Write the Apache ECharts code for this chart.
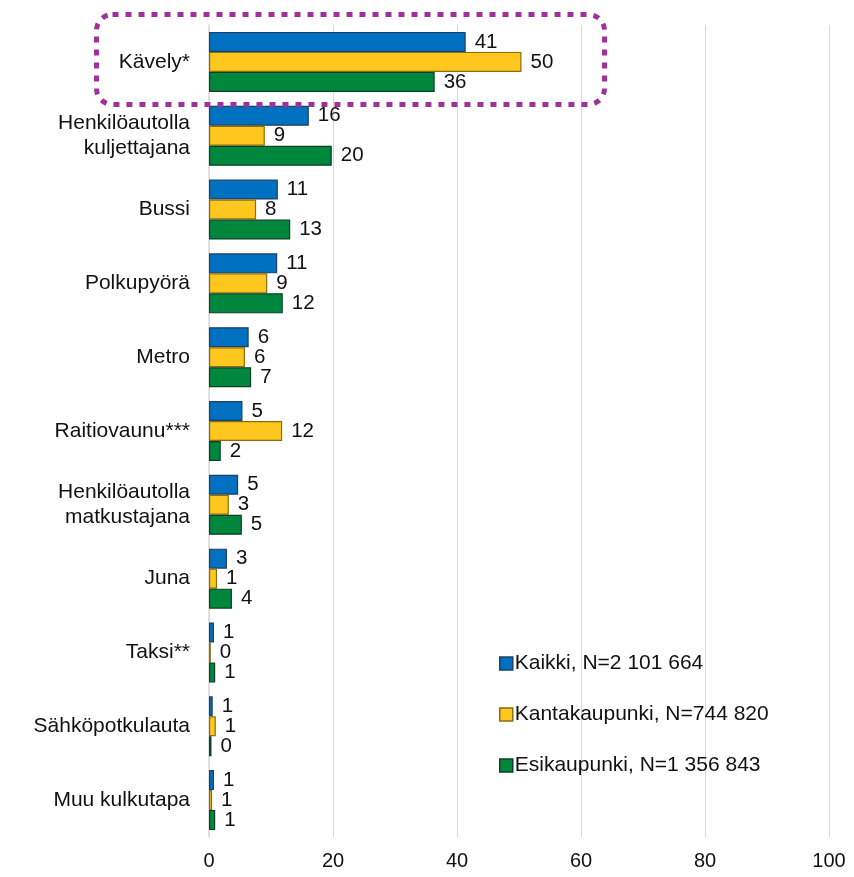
<!DOCTYPE html>
<html>
<head>
<meta charset="utf-8">
<script src="https://cdn.jsdelivr.net/npm/echarts@6/dist/echarts.min.js"></script>
<style>
  html, body { margin: 0; padding: 0; background: #fff; }
  #chart { width: 854px; height: 877px; }
</style>
</head>
<body>
<div id="chart"></div>
<script>
// kulkutavat ylhäältä alas
var categories = ['Kävely*', 'Henkilöautolla\nkuljettajana', 'Bussi', 'Polkupyörä', 'Metro',
    'Raitiovaunu***', 'Henkilöautolla\nmatkustajana', 'Juna', 'Taksi**', 'Sähköpotkulauta', 'Muu kulkutapa'];
var seriesNames = ['Kaikki, N=2 101 664', 'Kantakaupunki, N=744 820', 'Esikaupunki, N=1 356 843'];
var kaikki = [41.4, 16.1, 11.1, 11.0, 6.4, 5.4, 4.7, 2.9, 0.8, 0.6, 0.8];
var kantakaupunki = [50.4, 9.0, 7.6, 9.4, 5.8, 11.8, 3.2, 1.3, 0.3, 1.1, 0.5];
var esikaupunki = [36.4, 19.8, 13.1, 11.9, 6.8, 1.9, 5.3, 3.7, 1.0, 0.4, 1.0];
var xTicks = [0, 20, 40, 60, 80, 100];

var colors = ['#0070C0', '#FFC61E', '#00873E'];
var borders = ['#1E3F66', '#8C6D0C', '#0B4026'];
var font = 'Liberation Sans, Arial, sans-serif';

var myChart = echarts.init(document.getElementById('chart'));

function makeSeries(name, data, i) {
    return {
        name: name, type: 'bar', data: data,
        barWidth: 20, barGap: '0%',
        itemStyle: {color: colors[i], borderColor: borders[i], borderWidth: 1.2},
        label: {show: true, position: 'right', distance: 9, color: '#111', fontSize: 20.5, fontFamily: font,
            formatter: function (p) { return Math.round(p.value); }},
        z: 3
    };
}

var option = {
    animation: false,
    textStyle: {fontFamily: font},
    grid: {left: 209, right: 25, top: 25, bottom: 40, containLabel: false},
    legend: {
        orient: 'vertical', left: 494, top: 648, itemGap: 30,
        itemWidth: 13, itemHeight: 13, icon: 'rect',
        textStyle: {fontSize: 21, color: '#111', fontFamily: font, padding: [0, 0, 0, -3]},
        data: seriesNames.map(function (n, i) {
            return {name: n, itemStyle: {color: colors[i], borderColor: borders[i], borderWidth: 1.5}};
        })
    },
    xAxis: {
        type: 'value', min: 0, max: 100, interval: 20,
        axisLine: {show: false}, axisTick: {show: false},
        axisLabel: {fontSize: 20, color: '#111', margin: 14, fontFamily: font,
            formatter: function (v) { return xTicks.indexOf(v) >= 0 ? String(v) : ''; }},
        splitLine: {show: true, lineStyle: {color: '#D9D9D9', width: 1}}
    },
    yAxis: {
        type: 'category', data: categories, inverse: true,
        axisLine: {show: true, lineStyle: {color: '#D9D9D9', width: 1.5}},
        axisTick: {show: false},
        axisLabel: {fontSize: 21, color: '#111', margin: 19, lineHeight: 25, fontFamily: font}
    },
    series: [
        makeSeries(seriesNames[0], kaikki, 0),
        makeSeries(seriesNames[1], kantakaupunki, 1),
        makeSeries(seriesNames[2], esikaupunki, 2)
    ],
    graphic: [{
        type: 'rect', left: 94, top: 12, z: 10,
        shape: {width: 508, height: 90, r: 16},
        style: {fill: 'none', stroke: '#A0309A', lineWidth: 5, lineDash: [6, 7]}
    }]
};

myChart.setOption(option);
</script>
</body>
</html>
